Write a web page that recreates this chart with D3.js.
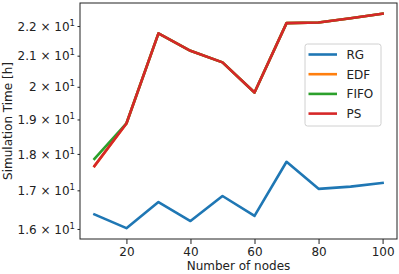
<!DOCTYPE html>
<html>
<head>
<meta charset="utf-8">
<script src="https://cdn.jsdelivr.net/npm/d3@7"></script>
<style>
body { margin: 0; background: #fff; }
text { font-family: "DejaVu Sans", sans-serif; fill: #222; }
</style>
</head>
<body>
<svg width="399" height="274"></svg>
<script>
var svg = d3.select("svg")

// data
const nodes = [10, 20, 30, 40, 50, 60, 70, 80, 90, 100];
const rg   = [16.37, 16.02, 16.69, 16.20, 16.85, 16.33, 17.78, 17.04, 17.10, 17.20];
const edf  = [17.66, 18.88, 21.75, 21.16, 20.78, 19.82, 22.10, 22.12, 22.27, 22.43];
const fifo = [17.86, 18.88, 21.75, 21.16, 20.78, 19.82, 22.10, 22.12, 22.27, 22.43];
const ps   = [17.66, 18.88, 21.75, 21.16, 20.78, 19.82, 22.10, 22.12, 22.27, 22.43];
const seriesNames = ["RG", "EDF", "FIFO", "PS"];
const colors = ["#1f77b4", "#ff7f0e", "#2ca02c", "#d62728"];
const xTicks = [20, 40, 60, 80, 100];
const yTicks = [16, 17, 18, 19, 20, 21, 22];
const yTickMant = ["1.6", "1.7", "1.8", "1.9", "2", "2.1", "2.2"];

const mLeft = 80, mRight = 397, mTop = 3, mBottom = 239;
const fs = 12;

const x = d3.scaleLinear().domain([5.5, 104.5]).range([mLeft, mRight]);
const y = d3.scaleLog().domain([15.75, 22.81]).range([mBottom, mTop]);

// x axis
const xAxis = svg.append("g")
	.attr("transform", `translate(0,${mBottom})`)
	.call(d3.axisBottom(x).tickValues(xTicks).tickSize(5).tickPadding(3));
xAxis.select(".domain").remove();
xAxis.selectAll("text").attr("font-size", fs).attr("fill", "#222").attr("font-family", "DejaVu Sans");
xAxis.selectAll("line").attr("stroke", "#222");

// y axis, labels in matplotlib style
const yAxis = svg.append("g")
	.attr("transform", `translate(${mLeft},0)`)
	.call(d3.axisLeft(y).tickValues(yTicks).tickSize(2.5).tickPadding(4).tickFormat(""));
yAxis.select(".domain").remove();
yAxis.selectAll("line").attr("stroke", "#222");
yAxis.selectAll(".tick text").each(function (d, i) {
	const t = d3.select(this)
		.attr("font-size", fs)
		.attr("fill", "#222")
		.attr("font-family", "DejaVu Sans")
		.attr("dy", "0.35em")
		.attr("x", -5);
	t.append("tspan").text(yTickMant[i] + " \u00d7 10");
	t.append("tspan").attr("font-size", 8.5).attr("dy", "-0.6em").text("1");
});

// lines
const line = d3.line()
	.x((d, i) => x(nodes[i]))
	.y(d => y(d));

const allSeries = [rg, edf, fifo, ps];
svg.append("g")
	.selectAll("path")
	.data(allSeries)
	.join("path")
	.attr("d", d => line(d))
	.attr("fill", "none")
	.attr("stroke", (d, i) => colors[i])
	.attr("stroke-width", 2.6)
	.attr("stroke-linejoin", "round")
	.attr("stroke-linecap", "square");

// frame
svg.append("rect")
	.attr("x", mLeft)
	.attr("y", mTop)
	.attr("width", mRight - mLeft)
	.attr("height", mBottom - mTop)
	.attr("fill", "none")
	.attr("stroke", "#222")
	.attr("stroke-width", 1);

// axis titles
svg.append("text")
	.attr("x", (mLeft + mRight) / 2)
	.attr("y", 270)
	.attr("text-anchor", "middle")
	.attr("font-size", fs)
	.text("Number of nodes");

svg.append("text")
	.attr("transform", `translate(12,${(mTop + mBottom) / 2}) rotate(-90)`)
	.attr("text-anchor", "middle")
	.attr("font-size", fs)
	.text("Simulation Time [h]");

// legend
const legend = svg.append("g").attr("transform", "translate(305,44)");
legend.append("rect")
	.attr("width", 76)
	.attr("height", 82)
	.attr("rx", 2.5)
	.attr("fill", "#fff")
	.attr("fill-opacity", 0.8)
	.attr("stroke", "#d0d0d0")
	.attr("stroke-width", 1);

const item = legend.selectAll("g.item")
	.data(seriesNames)
	.join("g")
	.attr("class", "item")
	.attr("transform", (d, i) => `translate(0,${10.5 + i * 19.7})`);
item.append("line")
	.attr("x1", 3.5)
	.attr("x2", 32)
	.attr("stroke", (d, i) => colors[i])
	.attr("stroke-width", 2.6);
item.append("text")
	.attr("x", 41.5)
	.attr("dy", "0.36em")
	.attr("font-size", fs)
	.text(d => d);
</script>
</body>
</html>
